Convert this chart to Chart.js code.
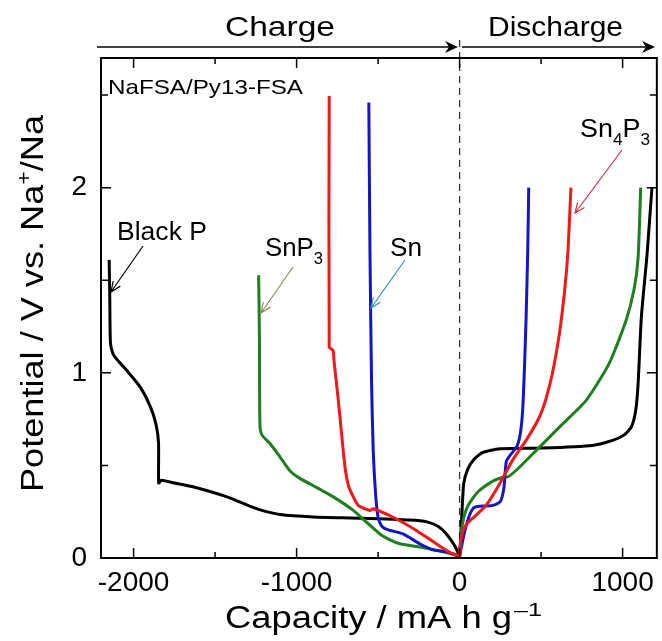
<!DOCTYPE html>
<html>
<head>
<meta charset="utf-8">
<script src="https://cdn.jsdelivr.net/npm/chart.js@4.4.0/dist/chart.umd.min.js"></script>
<style>
  html, body { margin: 0; padding: 0; background: #fff; }
  #wrap { width: 662px; height: 641px; }
</style>
</head>
<body>
<div id="wrap"><canvas id="chart" width="662" height="641"></canvas></div>
<script>
// [capacity (mA h g-1), potential (V)]
const blackPCharge = [[-2150, 1.61], [-2146, 1.40], [-2142, 1.16], [-2125, 1.10], [-2090, 1.06], [-2039, 1.01], [-1957, 0.92], [-1896, 0.815], [-1862, 0.72], [-1847, 0.62], [-1846, 0.405], [-1830, 0.42], [-1750, 0.405], [-1631, 0.383], [-1427, 0.33], [-1300, 0.285], [-1223, 0.26], [-1101, 0.235], [-897, 0.222], [-612, 0.215], [-306, 0.205], [-200, 0.195], [-130, 0.17], [-81, 0.13], [-31, 0.068], [0, 0.01]];
const blackPDischarge = [[0, 0.01], [12, 0.2], [25, 0.40], [50, 0.48], [90, 0.535], [143, 0.57], [245, 0.59], [510, 0.594], [815, 0.608], [938, 0.635], [1010, 0.665], [1055, 0.71], [1081, 0.8], [1095, 0.94], [1115, 1.30], [1150, 1.64], [1180, 2.0]];

const snP3Charge = [[-1233, 1.527], [-1228, 1.2], [-1225, 0.72], [-1213, 0.665], [-1162, 0.617], [-1101, 0.545], [-1040, 0.47], [-980, 0.43], [-897, 0.39], [-775, 0.33], [-652, 0.257], [-580, 0.2], [-489, 0.13], [-420, 0.095], [-367, 0.077], [-204, 0.053], [-81, 0.03], [0, 0.01]];
const snP3Discharge = [[0, 0.01], [15, 0.17], [40, 0.26], [75, 0.315], [122, 0.365], [204, 0.415], [260, 0.435], [300, 0.44], [367, 0.49], [469, 0.58], [612, 0.707], [775, 0.85], [917, 1.05], [1020, 1.28], [1070, 1.45], [1095, 1.62], [1111, 2.0]];

const snCharge = [[-557, 2.46], [-550, 1.66], [-540, 0.94], [-530, 0.58], [-515, 0.34], [-500, 0.22], [-480, 0.175], [-448, 0.155], [-347, 0.13], [-245, 0.077], [-163, 0.044], [-80, 0.033], [0, 0.01]];
const snDischarge = [[0, 0.01], [30, 0.14], [60, 0.23], [85, 0.27], [110, 0.278], [204, 0.284], [250, 0.305], [272, 0.38], [286, 0.52], [310, 0.555], [350, 0.6], [372, 0.67], [387, 0.80], [398, 1.03], [408, 1.30], [418, 1.66], [424, 2.0]];

const sn4P3Charge = [[-800, 2.495], [-800, 1.14], [-776, 1.12], [-771, 1.07], [-744, 0.85], [-725, 0.68], [-714, 0.58], [-700, 0.47], [-680, 0.385], [-652, 0.33], [-622, 0.284], [-570, 0.262], [-550, 0.257], [-530, 0.266], [-408, 0.22], [-265, 0.149], [-143, 0.077], [-61, 0.031], [0, 0.01]];
const sn4P3Discharge = [[0, 0.01], [12, 0.12], [40, 0.18], [81, 0.215], [163, 0.285], [245, 0.40], [326, 0.53], [408, 0.635], [489, 0.76], [530, 0.86], [570, 1.0], [612, 1.21], [645, 1.45], [665, 1.66], [683, 2.0]];

const xTicks = [-2000, -1500, -1000, -500, 0, 500, 1000];
const yTicks = [0, 0.5, 1, 1.5, 2, 2.5];

const FONT = '"Liberation Sans", Arial, sans-serif';

const toPts = arr => arr.map(([x, y]) => ({ x, y }));

function curve(charge, discharge, color, order) {
    return {
        data: toPts(charge.concat(discharge)),
        borderColor: color,
        borderWidth: 3,
        showLine: true,
        pointRadius: 0,
        tension: 0.2,
        order: order
    };
}

// text with sub/superscripts, stretched to a target width
function richText(ctx, parts, x, y, size, targetWidth) {
    ctx.save();
    ctx.fillStyle = '#000';
    ctx.textAlign = 'left';
    ctx.textBaseline = 'alphabetic';
    let total = 0;
    const items = parts.map(p => {
        const s = (p.sub || p.sup) ? size * 0.64 : size;
        ctx.font = `${s}px ${FONT}`;
        const w = ctx.measureText(p.text).width;
        total += w;
        return { p, s, w };
    });
    const k = targetWidth ? targetWidth / total : 1;
    ctx.translate(x, y);
    ctx.scale(k, 1);
    let cx = 0;
    items.forEach(({ p, s, w }) => {
        ctx.font = `${s}px ${FONT}`;
        const dy = p.sub ? size * 0.3 : p.sup ? -size * 0.4 : 0;
        ctx.fillText(p.text, cx, dy);
        cx += w;
    });
    ctx.restore();
}

function arrow(ctx, x1, y1, x2, y2, color) {
    const a = Math.atan2(y2 - y1, x2 - x1);
    const len = 11;
    ctx.save();
    ctx.strokeStyle = color;
    ctx.lineWidth = 1.2;
    ctx.beginPath();
    ctx.moveTo(x1, y1);
    ctx.lineTo(x2, y2);
    ctx.moveTo(x2 - len * Math.cos(a - 0.4), y2 - len * Math.sin(a - 0.4));
    ctx.lineTo(x2, y2);
    ctx.lineTo(x2 - len * Math.cos(a + 0.4), y2 - len * Math.sin(a + 0.4));
    ctx.stroke();
    ctx.restore();
}

function headArrow(ctx, x1, x2, y) {
    ctx.save();
    ctx.strokeStyle = '#000';
    ctx.fillStyle = '#000';
    ctx.lineWidth = 1.5;
    ctx.beginPath();
    ctx.moveTo(x1, y);
    ctx.lineTo(x2 - 4, y);
    ctx.stroke();
    ctx.beginPath();
    ctx.moveTo(x2, y);
    ctx.lineTo(x2 - 13, y - 6);
    ctx.lineTo(x2 - 9, y);
    ctx.lineTo(x2 - 13, y + 6);
    ctx.closePath();
    ctx.fill();
    ctx.restore();
}

const decor = {
    id: 'decor',
    beforeDatasetsDraw(chart) {
        const { ctx, chartArea: a, scales: { x } } = chart;
        const x0 = x.getPixelForValue(0);
        ctx.save();
        ctx.strokeStyle = '#333';
        ctx.lineWidth = 1.3;
        ctx.setLineDash([7, 5]);
        ctx.beginPath();
        ctx.moveTo(x0, 40);
        ctx.lineTo(x0, a.bottom);
        ctx.stroke();
        ctx.restore();
    },
    afterDraw(chart) {
        const { ctx, chartArea: a, scales: { x, y } } = chart;
        ctx.save();
        ctx.strokeStyle = '#000';
        ctx.lineWidth = 2;
        ctx.strokeRect(a.left, a.top, a.right - a.left, a.bottom - a.top);
        ctx.lineWidth = 1.5;
        ctx.beginPath();
        xTicks.forEach(v => {
            const px = x.getPixelForValue(v);
            const l = v % 1000 === 0 ? 10 : 6;
            ctx.moveTo(px, a.bottom); ctx.lineTo(px, a.bottom - l);
            ctx.moveTo(px, a.top); ctx.lineTo(px, a.top + l);
        });
        yTicks.forEach(v => {
            const py = y.getPixelForValue(v);
            const l = v % 1 === 0 ? 10 : 7;
            ctx.moveTo(a.left, py); ctx.lineTo(a.left + l, py);
            ctx.moveTo(a.right, py); ctx.lineTo(a.right - l, py);
        });
        ctx.stroke();
        ctx.restore();

        headArrow(ctx, 97, 458, 47);
        headArrow(ctx, 462, 655, 47);
        richText(ctx, [{ text: 'Charge' }], 225, 36, 28, 110);
        richText(ctx, [{ text: 'Discharge' }], 488, 36, 28, 135);
        richText(ctx, [{ text: 'NaFSA/Py13-FSA' }], 108, 94, 21, 195);

        richText(ctx, [{ text: 'Black P' }], 117, 240, 25, 90);
        richText(ctx, [{ text: 'SnP' }, { text: '3', sub: true }], 265, 256, 25, 58);
        richText(ctx, [{ text: 'Sn' }], 390, 256, 25, 32);
        richText(ctx, [{ text: 'Sn' }, { text: '4', sub: true }, { text: 'P' }, { text: '3', sub: true }], 580, 137, 25, 70);

        arrow(ctx, 143, 246, 111, 292, '#000');
        arrow(ctx, 293, 267, 261, 313, '#8c8c62');
        arrow(ctx, 405, 260, 371, 308, '#3a8cc0');
        arrow(ctx, 622, 150, 575, 213, '#cc3344');

        // axis titles
        richText(ctx, [{ text: 'Capacity / mA h g' }], 225, 628, 31, 287);
        richText(ctx, [{ text: '\u20131' }], 514, 616, 19, 28);
        ctx.save();
        ctx.translate(43, 492);
        ctx.rotate(-Math.PI / 2);
        richText(ctx, [{ text: 'Potential / V vs. Na' }, { text: '+', sup: true }, { text: '/Na' }], 0, 0, 31, 377);
        ctx.restore();
    }
};

new Chart(document.getElementById('chart'), {
    type: 'scatter',
    data: {
        datasets: [
            curve(blackPCharge, blackPDischarge, '#000000', 4),
            curve(snP3Charge, snP3Discharge, '#1d7f1d', 3),
            curve(snCharge, snDischarge, '#1414c8', 2),
            curve(sn4P3Charge, sn4P3Discharge, '#f01818', 1)
        ]
    },
    options: {
        responsive: false,
        animation: false,
        events: [],
        layout: { padding: { top: 58, right: 4, left: 0, bottom: 0 } },
        plugins: { legend: { display: false }, tooltip: { enabled: false } },
        scales: {
            x: {
                type: 'linear',
                min: -2200,
                max: 1210,
                afterBuildTicks: s => { s.ticks = xTicks.map(v => ({ value: v })); },
                afterFit: s => { s.height = 83; },
                grid: { display: false, drawTicks: false },
                border: { display: false },
                ticks: {
                    padding: 8,
                    maxRotation: 0,
                    autoSkip: false,
                    color: '#000',
                    font: { family: FONT, size: 28 },
                    callback: v => (v % 1000 === 0 ? String(v) : '')
                }
            },
            y: {
                type: 'linear',
                min: 0,
                max: 2.7,
                afterBuildTicks: s => { s.ticks = yTicks.map(v => ({ value: v })); },
                afterFit: s => { s.width = 101; },
                grid: { display: false, drawTicks: false },
                border: { display: false },
                ticks: {
                    padding: 14,
                    autoSkip: false,
                    color: '#000',
                    font: { family: FONT, size: 28 },
                    callback: v => (v % 1 === 0 ? String(v) : '')
                }
            }
        }
    },
    plugins: [decor]
});
</script>
</body>
</html>
